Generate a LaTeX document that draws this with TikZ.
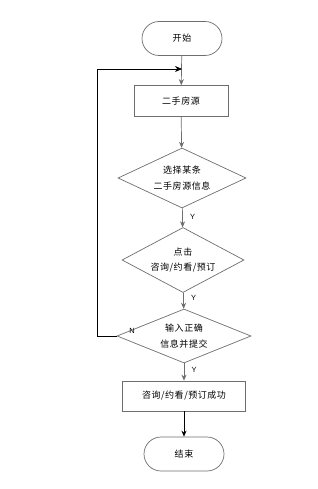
\documentclass[tikz,border=0pt]{standalone}
\usepackage{fontspec}
\newfontfamily\cjk[LetterSpace=6]{Noto Sans CJK SC}
\setmainfont{Liberation Sans}
\usetikzlibrary{shapes.geometric,shapes.misc,arrows.meta}
\definecolor{edgegray}{RGB}{110,110,110}
\begin{document}
\begin{tikzpicture}[x=1pt,y=-1pt,
  every node/.style={font=\cjk\fontsize{9}{15.5}\selectfont, text=black},
  term/.style={draw=edgegray, line width=0.7pt, rounded rectangle, minimum width=80pt, minimum height=34pt, inner sep=0pt},
  procbox/.style={draw=edgegray, line width=0.7pt, rectangle, inner sep=0pt},
  decide/.style={draw=edgegray, line width=0.7pt, diamond, inner sep=0pt},
  conn/.style={draw=edgegray, line width=0.7pt, -{Stealth[length=6pt,width=5pt]}},
  connb/.style={draw=black, line width=0.7pt, -{Stealth[length=6pt,width=5pt]}},
  lbl/.style={font=\fontsize{7.5}{9}\selectfont}
]
\useasboundingbox (0,0) rectangle (317,489);
\node[term] (start) at (182,38.5) {开始};
\node[procbox, minimum width=94pt, minimum height=31pt] (house) at (181,101) {二手房源};
\node[decide, minimum width=128pt, minimum height=60pt] (sel) at (182,178) {};
\node[align=center] (selT) at (sel.center) {选择某条\\二手房源信息};
\node[decide, minimum width=122pt, minimum height=65pt] (click) at (183,260) {};
\node[align=center] (clickT) at (click.center) {点击\\咨询/约看/预订};
\node[decide, minimum width=134pt, minimum height=54pt] (input) at (184,336) {};
\node[align=center] (inputT) at (input.center) {输入正确\\信息并提交};
\node[procbox, minimum width=123pt, minimum height=30pt] (ok) at (184,396) {咨询/约看/预订成功};
\node[term] (fin) at (184,454) {结束};
\coordinate (loopL) at (97,336);
\coordinate (loopT) at (97,69);
\coordinate (join) at (182,69);
\draw[conn] (start) -- (house);
\draw[conn] (house) -- (sel);
\draw[conn] (sel) -- (click) node[lbl, pos=0.45, right=4pt] {Y};
\draw[conn] (click) -- (input) node[lbl, pos=0.35, right=4pt] {Y};
\draw[conn] (input) -- (ok) node[lbl, pos=0.4, right=4pt] {Y};
\draw[connb] (ok) -- (fin);
\draw[black, line width=0.7pt] (input.west) -- (loopL) -- (loopT);
\draw[black, line width=0.7pt, -{Stealth[length=7pt,width=6pt]}] (loopT) -- (join);
\node[lbl] (nlab) at (132,331) {N};
\end{tikzpicture}
\end{document}
